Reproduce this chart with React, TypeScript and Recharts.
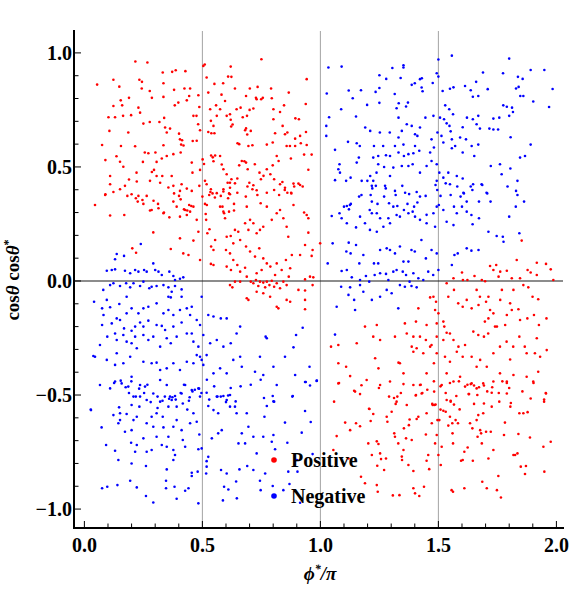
import {
  ScatterChart,
  Scatter,
  XAxis,
  YAxis,
  ReferenceLine,
  Legend,
} from 'recharts';

// cosθ cosθ* vs φ*/π
const positive: [number, number][] = [
  [0.054, 0.861], [0.075, 0.596], [0.089, 0.53], [0.106, 0.658], [0.109, 0.46], [0.109, 0.424], [0.089, 0.38],
  [0.123, 0.882], [0.123, 0.767], [0.13, 0.718], [0.123, 0.39], [0.102, 0.718], [0.136, 0.547], [0.148, 0.852],
  [0.154, 0.792], [0.16, 0.77], [0.164, 0.724], [0.155, 0.592], [0.151, 0.523], [0.165, 0.501], [0.186, 0.651],
  [0.189, 0.803], [0.198, 0.727], [0.215, 0.591], [0.189, 0.445], [0.216, 0.962], [0.233, 0.882], [0.244, 0.873],
  [0.243, 0.844], [0.229, 0.76], [0.236, 0.738], [0.25, 0.69], [0.256, 0.563], [0.248, 0.522], [0.221, 0.475],
  [0.222, 0.436], [0.267, 0.958], [0.277, 0.833], [0.286, 0.803], [0.277, 0.697], [0.271, 0.56], [0.286, 0.478],
  [0.301, 0.563], [0.306, 0.522], [0.318, 0.697], [0.332, 0.914], [0.335, 0.867], [0.335, 0.807], [0.338, 0.715],
  [0.335, 0.595], [0.328, 0.537], [0.33, 0.46], [0.342, 0.673], [0.349, 0.651], [0.363, 0.668], [0.372, 0.917],
  [0.387, 0.924], [0.38, 0.838], [0.383, 0.77], [0.398, 0.782], [0.401, 0.646], [0.405, 0.621], [0.414, 0.617],
  [0.41, 0.598], [0.42, 0.594], [0.428, 0.92], [0.424, 0.844], [0.434, 0.792], [0.444, 0.811], [0.448, 0.844],
  [0.462, 0.724], [0.475, 0.724], [0.483, 0.814], [0.487, 0.763], [0.459, 0.614], [0.476, 0.615], [0.482, 0.687],
  [0.49, 0.661], [0.504, 0.943], [0.51, 0.949], [0.518, 0.892], [0.525, 0.826], [0.533, 0.753], [0.536, 0.702],
  [0.525, 0.653], [0.538, 0.648], [0.551, 0.648], [0.547, 0.68], [0.551, 0.864], [0.558, 0.77], [0.561, 0.724],
  [0.575, 0.753], [0.581, 0.817], [0.588, 0.867], [0.596, 0.789], [0.609, 0.896], [0.623, 0.895], [0.62, 0.94],
  [0.638, 0.844], [0.645, 0.753], [0.617, 0.731], [0.603, 0.724], [0.62, 0.707], [0.622, 0.677], [0.628, 0.686],
  [0.649, 0.604], [0.656, 0.6], [0.662, 0.76], [0.671, 0.718], [0.685, 0.811], [0.689, 0.724], [0.701, 0.844],
  [0.695, 0.592], [0.681, 0.661], [0.685, 0.669], [0.69, 0.642], [0.7, 0.75], [0.705, 0.658], [0.712, 0.595],
  [0.716, 0.756], [0.727, 0.803], [0.73, 0.797], [0.734, 0.851], [0.75, 0.972], [0.749, 0.797], [0.756, 0.803],
  [0.773, 0.598], [0.791, 0.844], [0.794, 0.801], [0.801, 0.753], [0.801, 0.709], [0.798, 0.607], [0.808, 0.648],
  [0.829, 0.741], [0.84, 0.68], [0.85, 0.643], [0.846, 0.77], [0.86, 0.651], [0.857, 0.592], [0.866, 0.826],
  [0.349, 0.548], [0.377, 0.556], [0.408, 0.563], [0.455, 0.519], [0.458, 0.475], [0.501, 0.533], [0.507, 0.513],
  [0.511, 0.439], [0.518, 0.424], [0.537, 0.55], [0.544, 0.542], [0.554, 0.55], [0.547, 0.525], [0.575, 0.548],
  [0.582, 0.511], [0.589, 0.49], [0.603, 0.468], [0.607, 0.431], [0.617, 0.431], [0.623, 0.446], [0.638, 0.428],
  [0.648, 0.449], [0.656, 0.507], [0.667, 0.526], [0.678, 0.525], [0.685, 0.519], [0.692, 0.49], [0.699, 0.431],
  [0.722, 0.512], [0.742, 0.475], [0.748, 0.446], [0.759, 0.461], [0.773, 0.49], [0.788, 0.468], [0.798, 0.507],
  [0.804, 0.446], [0.815, 0.548], [0.823, 0.526], [0.829, 0.424], [0.839, 0.434], [0.85, 0.409], [0.86, 0.387],
  [0.773, 0.387], [0.716, 0.42], [0.73, 0.398], [0.648, 0.387], [0.617, 0.38], [0.589, 0.402], [0.561, 0.385],
  [0.534, 0.39], [0.487, 0.417], [0.455, 0.395], [0.434, 0.405], [0.405, 0.395], [0.377, 0.417], [0.356, 0.41],
  [0.321, 0.431], [0.306, 0.46], [0.264, 0.373], [0.229, 0.373], [0.2, 0.38], [0.172, 0.417], [0.151, 0.402],
  [0.278, 0.439], [0.295, 0.487], [0.37, 0.46], [0.412, 0.424], [0.49, 0.487],
  [0.942, 0.885], [0.938, 0.776], [0.894, 0.713], [0.909, 0.709], [0.939, 0.653], [0.914, 0.636], [0.893, 0.624],
  [0.942, 0.596], [0.917, 0.604], [0.871, 0.592], [0.893, 0.592], [0.931, 0.554], [0.963, 0.554], [0.875, 0.537],
  [0.949, 0.488], [0.886, 0.427], [0.907, 0.427], [0.925, 0.414], [0.876, 0.387],
  [0.045, 0.333], [0.109, 0.287], [0.169, 0.289], [0.203, 0.143], [0.219, 0.124], [0.226, 0.348], [0.292, 0.213],
  [0.285, 0.311], [0.314, 0.319], [0.335, 0.297], [0.36, 0.279], [0.391, 0.326], [0.405, 0.282], [0.427, 0.311],
  [0.434, 0.289], [0.448, 0.304], [0.462, 0.326], [0.476, 0.268], [0.483, 0.216], [0.366, 0.14], [0.405, 0.187],
  [0.419, 0.121], [0.441, 0.114], [0.462, 0.177], [0.49, 0.092], [0.511, 0.338], [0.516, 0.268], [0.521, 0.209],
  [0.53, 0.227], [0.537, 0.151], [0.547, 0.136], [0.554, 0.18], [0.536, 0.075], [0.547, 0.07], [0.575, 0.326],
  [0.589, 0.304], [0.596, 0.275], [0.603, 0.194], [0.62, 0.197], [0.631, 0.165], [0.638, 0.224], [0.652, 0.216],
  [0.66, 0.18], [0.6, 0.136], [0.617, 0.121], [0.603, 0.063], [0.621, 0.048], [0.631, 0.092], [0.648, 0.07],
  [0.66, 0.041], [0.617, -0.018], [0.627, -0.028], [0.638, -0.003], [0.66, -0.003], [0.688, 0.326], [0.681, 0.253],
  [0.695, 0.224], [0.702, 0.268], [0.716, 0.253], [0.73, 0.209], [0.744, 0.224], [0.758, 0.238], [0.773, 0.326],
  [0.794, 0.268], [0.815, 0.297], [0.829, 0.311], [0.843, 0.275], [0.857, 0.238], [0.864, 0.194], [0.685, 0.151],
  [0.702, 0.129], [0.723, 0.107], [0.741, 0.143], [0.758, 0.099], [0.773, 0.077], [0.788, 0.063], [0.815, 0.077],
  [0.836, 0.048], [0.854, 0.092], [0.866, 0.019], [0.681, 0.058], [0.688, 0.019], [0.705, -0.003], [0.716, -0.01],
  [0.727, 0.004], [0.737, -0.022], [0.744, -0.003], [0.758, -0.007], [0.766, -0.028], [0.773, -0.003], [0.784, -0.018],
  [0.794, 0.001], [0.804, -0.025], [0.815, -0.01], [0.829, -0.032], [0.843, -0.003], [0.857, -0.018], [0.688, -0.076],
  [0.695, -0.083], [0.73, -0.047], [0.758, -0.054], [0.787, -0.069], [0.815, -0.113], [0.822, -0.12], [0.857, -0.083],
  [0.73, 0.034], [0.808, 0.026], [0.751, 0.048],
  [0.886, 0.333], [0.942, 0.289], [0.949, 0.275], [0.949, 0.212], [0.935, 0.158], [0.967, 0.136], [0.963, 0.11],
  [0.914, 0.114], [0.879, 0.114], [0.872, 0.056], [0.935, 0.007], [0.956, 0.019], [0.97, 0.016], [0.907, -0.039],
  [0.935, -0.042], [0.967, -0.018], [0.872, -0.091], [0.935, -0.083], [0.935, -0.124], [0.999, 0.165],
  [0.088, 0.377], [0.182, 0.373], [0.218, 0.363], [0.246, 0.355], [0.25, 0.338], [0.293, 0.352], [0.312, 0.338],
  [0.278, 0.309], [0.337, 0.3], [0.38, 0.384], [0.401, 0.373], [0.408, 0.358], [0.377, 0.348], [0.444, 0.333],
  [0.453, 0.329], [0.422, 0.314], [0.436, 0.309], [0.5, 0.37], [0.519, 0.333], [0.514, 0.294], [0.529, 0.377],
  [0.543, 0.384], [0.536, 0.402], [0.553, 0.366], [0.578, 0.373], [0.589, 0.392], [0.585, 0.326], [0.592, 0.297],
  [0.609, 0.363], [0.613, 0.384], [0.617, 0.409], [0.634, 0.338], [0.634, 0.309], [0.613, 0.304], [0.691, 0.414],
  [0.684, 0.37], [0.712, 0.402], [0.733, 0.377], [0.747, 0.341], [0.804, 0.399], [0.825, 0.377], [0.849, 0.399],
  [0.877, 0.384], [0.889, 0.414], [0.914, 0.421], [0.931, 0.3],
  [1.564, 0.012], [1.6, 0.037], [1.604, 0.004], [1.623, 0.004], [1.653, 0.022], [1.684, 0.004], [1.698, -0.001],
  [1.719, 0.066], [1.733, 0.048], [1.745, 0.07], [1.755, 0.019], [1.762, 0.041], [1.79, 0.045], [1.811, 0.012],
  [1.832, 0.092], [1.846, 0.012], [1.878, 0.048], [1.891, 0.037], [1.917, 0.08], [1.917, 0.026], [1.956, 0.075],
  [1.976, 0.051], [1.987, 0.004], [1.853, 0.177], [1.535, -0.01], [1.542, -0.069], [1.566, -0.039], [1.584, -0.098],
  [1.603, -0.113], [1.62, -0.083], [1.641, -0.12], [1.662, -0.039], [1.676, -0.069], [1.702, -0.091], [1.712, -0.069],
  [1.719, -0.127], [1.733, -0.142], [1.762, -0.083], [1.769, -0.039], [1.804, -0.098], [1.811, -0.127], [1.839, -0.124],
  [1.818, -0.039], [1.86, -0.018], [1.881, -0.028], [1.899, -0.069], [1.923, -0.08], [1.905, -0.149], [1.877, -0.164],
  [1.846, -0.171], [1.958, -0.164], [1.926, -0.193], [1.79, -0.149], [1.783, -0.193], [1.748, -0.2], [1.712, -0.164],
  [1.697, -0.178], [1.67, -0.105], [1.49, -0.091], [1.479, -0.069], [1.465, -0.072], [1.486, -0.127], [1.5, -0.142],
  [1.521, -0.178], [1.525, -0.2], [1.493, -0.186], [1.45, -0.193], [1.415, -0.12], [1.405, -0.178], [1.358, -0.186],
  [1.366, -0.23], [1.394, -0.244], [1.422, -0.244], [1.447, -0.259], [1.471, -0.281], [1.493, -0.244], [1.521, -0.259],
  [1.535, -0.227], [1.549, -0.23], [1.564, -0.259], [1.585, -0.288], [1.613, -0.281], [1.648, -0.222], [1.669, -0.237],
  [1.693, -0.244], [1.711, -0.23], [1.74, -0.2], [1.761, -0.288], [1.789, -0.266], [1.817, -0.288], [1.843, -0.244],
  [1.866, -0.288], [1.909, -0.317], [1.917, -0.251], [1.959, -0.303], [1.874, -0.317], [1.804, -0.344], [1.733, -0.317],
  [1.705, -0.376], [1.677, -0.346], [1.662, -0.376], [1.641, -0.332], [1.603, -0.332], [1.578, -0.31], [1.549, -0.354],
  [1.528, -0.332], [1.493, -0.317], [1.465, -0.288], [1.436, -0.317], [1.408, -0.295], [1.387, -0.288], [1.394, -0.31],
  [1.337, -0.361], [1.316, -0.244], [1.253, -0.259], [1.224, -0.244], [1.239, -0.193], [1.189, -0.2], [1.154, -0.273],
  [1.076, -0.281], [1.045, -0.288], [1.076, -0.361], [1.109, -0.376], [1.126, -0.417], [1.076, -0.449], [1.196, -0.434],
  [1.232, -0.339], [1.246, -0.383], [1.253, -0.456], [1.295, -0.441], [1.352, -0.405], [1.331, -0.358], [1.394, -0.456],
  [1.422, -0.456], [1.45, -0.405], [1.481, -0.361], [1.514, -0.456], [1.535, -0.405], [1.564, -0.441], [1.592, -0.42],
  [1.613, -0.463], [1.641, -0.449], [1.662, -0.471], [1.69, -0.449], [1.733, -0.441], [1.761, -0.405], [1.79, -0.441],
  [1.818, -0.412], [1.874, -0.42], [1.902, -0.441], [1.923, -0.398], [1.931, -0.332],
  [1.079, -0.447], [1.143, -0.481], [1.174, -0.457], [1.248, -0.469], [1.291, -0.507], [1.312, -0.513], [1.319, -0.539],
  [1.341, -0.491], [1.352, -0.452], [1.404, -0.502], [1.425, -0.455], [1.432, -0.491], [1.453, -0.477], [1.474, -0.539],
  [1.488, -0.542], [1.481, -0.44], [1.509, -0.462], [1.531, -0.491], [1.549, -0.447], [1.552, -0.525], [1.566, -0.542],
  [1.587, -0.44], [1.623, -0.455], [1.637, -0.452], [1.651, -0.458], [1.672, -0.466], [1.693, -0.458], [1.707, -0.484],
  [1.728, -0.466], [1.756, -0.491], [1.771, -0.44], [1.79, -0.447], [1.8, -0.469], [1.856, -0.484], [1.903, -0.447],
  [1.948, -0.52], [1.955, -0.491], [1.807, -0.535], [1.63, -0.496], [1.651, -0.539], [1.206, -0.56], [1.509, -0.564],
  [1.058, -0.529], [1.069, -0.68], [1.055, -0.741], [1.105, -0.621], [1.119, -0.778], [1.126, -0.654], [1.151, -0.624],
  [1.147, -0.485], [1.168, -0.496], [1.168, -0.637], [1.172, -0.858], [1.189, -0.887], [1.203, -0.712], [1.208, -0.561],
  [1.213, -0.614], [1.218, -0.763], [1.224, -0.583], [1.239, -0.703], [1.246, -0.715], [1.253, -0.756], [1.241, -0.81],
  [1.239, -0.895], [1.243, -0.924], [1.257, -0.781], [1.27, -0.829], [1.278, -0.778], [1.281, -0.595], [1.284, -0.617],
  [1.302, -0.573], [1.307, -0.94], [1.313, -0.668], [1.316, -0.683], [1.323, -0.529], [1.326, -0.507], [1.33, -0.712],
  [1.335, -0.939], [1.345, -0.77], [1.346, -0.785], [1.352, -0.741], [1.354, -0.646], [1.363, -0.69], [1.366, -0.544],
  [1.373, -0.807], [1.375, -0.632], [1.378, -0.607], [1.387, -0.697], [1.394, -0.833], [1.394, -0.909], [1.401, -0.931],
  [1.405, -0.5], [1.408, -0.605], [1.415, -0.595], [1.419, -0.943], [1.429, -0.493], [1.439, -0.902], [1.447, -0.673],
  [1.45, -0.58], [1.45, -0.788], [1.457, -0.763], [1.461, -0.825], [1.472, -0.624], [1.476, -0.544], [1.483, -0.544],
  [1.482, -0.485], [1.486, -0.712], [1.493, -0.675], [1.496, -0.61], [1.5, -0.763], [1.504, -0.61], [1.51, -0.807],
  [1.514, -0.727], [1.521, -0.569], [1.531, -0.573], [1.535, -0.522], [1.542, -0.634], [1.549, -0.595], [1.552, -0.529],
  [1.556, -0.917], [1.559, -0.624], [1.56, -0.668], [1.562, -0.924], [1.562, -0.712], [1.573, -0.61], [1.576, -0.504],
  [1.583, -0.624], [1.59, -0.563], [1.596, -0.788], [1.603, -0.785], [1.61, -0.909], [1.61, -0.749], [1.624, -0.73],
  [1.628, -0.496], [1.634, -0.624], [1.644, -0.646], [1.646, -0.788], [1.662, -0.61], [1.665, -0.5], [1.666, -0.683],
  [1.669, -0.588], [1.677, -0.654], [1.681, -0.668], [1.684, -0.712], [1.686, -0.88], [1.69, -0.58], [1.693, -0.537],
  [1.702, -0.661], [1.705, -0.909], [1.712, -0.778], [1.722, -0.661], [1.726, -0.551], [1.733, -0.741], [1.748, -0.917],
  [1.754, -0.855], [1.758, -0.529], [1.765, -0.949], [1.778, -0.675], [1.782, -0.621], [1.79, -0.493], [1.805, -0.551],
  [1.818, -0.763], [1.825, -0.763], [1.835, -0.756], [1.839, -0.671], [1.843, -0.58], [1.849, -0.814], [1.86, -0.58],
  [1.867, -0.846], [1.871, -0.811], [1.878, -0.575], [1.888, -0.686], [1.891, -0.515], [1.945, -0.727], [1.948, -0.529],
  [1.949, -0.836], [1.956, -0.493], [1.976, -0.705], [1.726, -0.49],
];

const negative: [number, number][] = [
  [1.034, 0.936], [1.09, 0.94], [1.027, 0.822], [1.037, 0.718], [1.025, 0.68], [1.025, 0.636], [1.088, 0.753],
  [1.12, 0.835], [1.137, 0.801], [1.172, 0.836], [1.151, 0.721], [1.198, 0.772], [1.19, 0.673], [1.234, 0.829],
  [1.25, 0.846], [1.25, 0.902], [1.25, 0.781], [1.279, 0.886], [1.305, 0.934], [1.352, 0.936], [1.352, 0.946],
  [1.315, 0.82], [1.332, 0.779], [1.323, 0.757], [1.371, 0.782], [1.363, 0.765], [1.34, 0.89], [1.387, 0.86],
  [1.4, 0.867], [1.422, 0.885], [1.43, 0.889], [1.429, 0.848], [1.433, 0.832], [1.476, 0.868], [1.493, 0.911],
  [1.5, 0.971], [1.5, 0.896], [1.518, 0.833], [1.549, 0.843], [1.564, 0.849], [1.557, 0.988], [1.613, 0.855],
  [1.637, 0.836], [1.646, 0.808], [1.669, 0.811], [1.66, 0.873], [1.689, 0.914], [1.709, 0.841], [1.774, 0.911],
  [1.8, 0.975], [1.837, 0.895], [1.829, 0.844], [1.847, 0.811], [1.84, 0.851], [1.857, 0.886], [1.891, 0.925],
  [1.902, 0.787], [1.949, 0.925], [1.984, 0.842], [1.969, 0.763], [1.86, 0.811], [1.812, 0.76], [1.79, 0.764],
  [1.775, 0.77], [1.816, 0.741], [1.8, 0.724], [1.806, 0.63], [1.891, 0.598], [1.758, 0.716], [1.733, 0.712],
  [1.716, 0.668], [1.733, 0.664], [1.753, 0.664], [1.669, 0.724], [1.646, 0.709], [1.621, 0.716], [1.662, 0.687],
  [1.676, 0.668], [1.603, 0.674], [1.592, 0.629], [1.617, 0.621], [1.641, 0.592], [1.669, 0.598], [1.652, 0.548],
  [1.603, 0.563], [1.571, 0.592], [1.557, 0.621], [1.552, 0.656], [1.535, 0.691], [1.524, 0.709], [1.529, 0.77],
  [1.546, 0.753], [1.562, 0.731], [1.507, 0.716], [1.479, 0.724], [1.445, 0.716], [1.422, 0.673], [1.387, 0.68],
  [1.401, 0.643], [1.411, 0.636], [1.366, 0.687], [1.345, 0.658], [1.331, 0.716], [1.294, 0.651], [1.252, 0.651],
  [1.266, 0.592], [1.227, 0.592], [1.167, 0.592], [1.154, 0.604], [1.117, 0.61], [1.062, 0.575], [1.081, 0.512],
  [1.076, 0.49], [1.083, 0.475], [1.062, 0.442], [1.109, 0.439], [1.128, 0.453], [1.154, 0.519], [1.163, 0.541],
  [1.175, 0.439], [1.211, 0.46], [1.199, 0.439], [1.224, 0.439], [1.218, 0.417], [1.238, 0.475], [1.245, 0.512],
  [1.245, 0.548], [1.278, 0.551], [1.295, 0.548], [1.331, 0.563], [1.354, 0.548], [1.373, 0.556], [1.394, 0.56],
  [1.391, 0.512], [1.373, 0.504], [1.345, 0.504], [1.309, 0.497], [1.295, 0.46], [1.27, 0.5], [1.274, 0.417],
  [1.316, 0.395], [1.359, 0.387], [1.408, 0.39], [1.422, 0.475], [1.45, 0.504], [1.465, 0.563], [1.471, 0.621],
  [1.481, 0.585], [1.471, 0.526], [1.493, 0.512], [1.504, 0.475], [1.493, 0.439], [1.521, 0.453], [1.542, 0.475],
  [1.549, 0.424], [1.578, 0.46], [1.603, 0.449], [1.606, 0.387], [1.647, 0.424], [1.683, 0.424], [1.704, 0.387],
  [1.722, 0.504], [1.761, 0.512], [1.768, 0.468], [1.805, 0.493], [1.835, 0.439], [1.846, 0.541], [1.867, 0.548],
  [1.829, 0.395], [1.547, 0.68], [1.496, 0.651], [1.513, 0.636], [1.521, 0.607], [1.557, 0.582], [1.419, 0.571],
  [1.401, 0.592], [1.352, 0.598], [1.316, 0.592], [1.331, 0.629], [1.211, 0.658], [1.224, 0.541],
  [1.112, 0.329], [1.121, 0.314], [1.129, 0.338], [1.164, 0.37], [1.174, 0.377], [1.213, 0.377], [1.22, 0.406],
  [1.235, 0.417], [1.218, 0.348], [1.242, 0.338], [1.209, 0.311], [1.27, 0.37], [1.277, 0.406], [1.291, 0.341],
  [1.319, 0.377], [1.326, 0.329], [1.347, 0.417], [1.376, 0.381], [1.369, 0.338], [1.397, 0.326], [1.411, 0.344],
  [1.422, 0.37], [1.446, 0.373], [1.45, 0.29], [1.488, 0.421], [1.495, 0.399], [1.502, 0.333], [1.509, 0.373],
  [1.531, 0.428], [1.552, 0.377], [1.566, 0.326], [1.58, 0.414], [1.594, 0.37], [1.608, 0.384], [1.62, 0.348],
  [1.637, 0.414], [1.644, 0.399], [1.672, 0.348], [1.686, 0.421], [1.707, 0.384], [1.721, 0.348], [1.793, 0.414],
  [1.835, 0.377], [1.863, 0.348], [1.828, 0.326],
  [0.239, 0.162], [0.137, 0.118], [0.13, 0.095], [0.168, 0.11], [0.095, 0.045], [0.116, 0.048], [0.13, 0.051],
  [0.172, 0.045], [0.194, 0.034], [0.215, 0.048], [0.229, 0.041], [0.253, 0.048], [0.264, 0.041], [0.292, 0.077],
  [0.3, 0.048], [0.314, 0.041], [0.328, 0.026], [0.36, 0.041], [0.377, 0.022], [0.384, 0.004], [0.405, 0.01],
  [0.419, 0.016], [0.109, -0.018], [0.123, -0.01], [0.151, -0.022], [0.177, -0.01], [0.194, -0.028], [0.208, -0.01],
  [0.236, -0.022], [0.25, -0.003], [0.275, -0.032], [0.285, -0.025], [0.306, -0.022], [0.335, -0.018], [0.356, -0.028],
  [0.37, -0.047], [0.384, -0.022], [0.412, -0.037], [0.412, -0.069], [0.356, -0.069], [0.366, -0.072], [0.179, -0.069],
  [0.08, -0.039], [0.041, -0.091], [0.095, -0.083], [0.109, -0.115], [0.148, -0.101], [0.075, -0.12], [0.081, -0.149],
  [0.075, -0.193], [0.137, -0.164], [0.151, -0.171], [0.179, -0.142], [0.2, -0.12], [0.229, -0.142], [0.25, -0.12],
  [0.271, -0.113], [0.306, -0.098], [0.335, -0.142], [0.356, -0.127], [0.377, -0.149], [0.405, -0.127], [0.434, -0.12],
  [0.455, -0.113], [0.448, -0.149], [0.476, -0.171], [0.497, -0.069], [0.525, -0.149], [0.547, -0.156], [0.578, -0.164],
  [0.603, -0.164], [0.49, -0.193], [0.412, -0.182], [0.377, -0.2], [0.342, -0.215], [0.328, -0.197], [0.306, -0.193],
  [0.271, -0.174], [0.236, -0.182], [0.25, -0.2], [0.215, -0.2], [0.2, -0.218], [0.168, -0.208], [0.116, -0.186],
  [0.097, -0.244], [0.066, -0.281], [0.13, -0.23], [0.137, -0.259], [0.165, -0.237], [0.179, -0.266], [0.2, -0.273],
  [0.215, -0.244], [0.25, -0.237], [0.271, -0.259], [0.292, -0.244], [0.321, -0.288], [0.349, -0.251], [0.366, -0.273],
  [0.391, -0.244], [0.434, -0.23], [0.455, -0.23], [0.462, -0.266], [0.483, -0.288], [0.504, -0.237], [0.533, -0.273],
  [0.561, -0.259], [0.589, -0.288], [0.62, -0.273], [0.645, -0.23], [0.66, -0.2], [0.768, -0.244], [0.773, -0.251],
  [0.66, -0.332], [0.744, -0.332], [0.85, -0.332], [0.045, -0.332], [0.038, -0.329], [0.095, -0.346], [0.137, -0.317],
  [0.13, -0.368], [0.165, -0.361], [0.194, -0.332], [0.222, -0.295], [0.25, -0.354], [0.285, -0.361], [0.306, -0.358],
  [0.321, -0.39], [0.349, -0.383], [0.377, -0.361], [0.405, -0.39], [0.434, -0.354], [0.462, -0.361], [0.476, -0.325],
  [0.49, -0.332], [0.497, -0.346], [0.504, -0.368], [0.518, -0.325], [0.547, -0.405], [0.575, -0.383], [0.603, -0.405],
  [0.631, -0.346], [0.667, -0.376], [0.723, -0.398], [0.758, -0.412], [0.815, -0.456], [0.801, -0.376], [0.13, -0.441],
  [0.158, -0.449], [0.2, -0.42], [0.236, -0.456], [0.257, -0.463], [0.292, -0.493], [0.321, -0.434], [0.349, -0.456],
  [0.363, -0.507], [0.384, -0.504], [0.412, -0.493], [0.427, -0.456], [0.455, -0.478], [0.483, -0.471], [0.518, -0.49],
  [0.561, -0.507], [0.589, -0.504], [0.617, -0.5], [0.186, -0.463], [0.109, -0.471], [0.066, -0.456],
  [0.126, -0.447], [0.154, -0.437], [0.175, -0.466], [0.199, -0.44], [0.189, -0.491], [0.218, -0.507], [0.232, -0.472],
  [0.253, -0.491], [0.267, -0.455], [0.281, -0.531], [0.31, -0.507], [0.331, -0.525], [0.341, -0.507], [0.359, -0.516],
  [0.373, -0.51], [0.387, -0.52], [0.408, -0.491], [0.422, -0.455], [0.443, -0.525], [0.458, -0.484], [0.468, -0.477],
  [0.486, -0.472], [0.496, -0.491], [0.519, -0.433], [0.529, -0.52], [0.55, -0.462], [0.564, -0.507], [0.578, -0.507],
  [0.6, -0.531], [0.609, -0.502], [0.62, -0.469], [0.641, -0.528], [0.662, -0.462], [0.705, -0.455], [0.747, -0.433],
  [0.761, -0.513], [0.801, -0.528], [0.881, -0.507], [0.938, -0.443], [0.985, -0.437], [0.147, -0.554], [0.027, -0.564],
  [0.31, -0.557], [0.436, -0.564],
  [1.048, 0.285], [1.081, 0.297], [1.09, 0.275], [1.112, 0.253], [1.1, 0.326], [1.125, 0.333], [1.151, 0.235],
  [1.168, 0.282], [1.189, 0.253], [1.21, 0.224], [1.218, 0.297], [1.239, 0.297], [1.253, 0.275], [1.239, 0.216],
  [1.267, 0.238], [1.288, 0.275], [1.295, 0.253], [1.309, 0.326], [1.323, 0.289], [1.337, 0.282], [1.354, 0.311],
  [1.373, 0.297], [1.391, 0.304], [1.401, 0.282], [1.422, 0.268], [1.45, 0.253], [1.479, 0.297], [1.486, 0.238],
  [1.493, 0.326], [1.521, 0.311], [1.535, 0.26], [1.564, 0.245], [1.578, 0.297], [1.6, 0.326], [1.62, 0.304],
  [1.64, 0.289], [1.645, 0.249], [1.672, 0.275], [1.712, 0.216], [1.747, 0.197], [1.773, 0.194], [1.776, 0.172],
  [1.8, 0.282], [1.843, 0.209], [1.67, 0.136], [1.64, 0.133], [1.62, 0.143], [1.582, 0.121], [1.568, 0.114],
  [1.557, 0.07], [1.5, 0.048], [1.493, 0.121], [1.471, 0.136], [1.447, 0.099], [1.428, 0.18], [1.4, 0.129],
  [1.386, 0.136], [1.373, 0.085], [1.352, 0.085], [1.337, 0.151], [1.316, 0.121], [1.295, 0.136], [1.281, 0.143],
  [1.253, 0.136], [1.227, 0.077], [1.245, 0.077], [1.182, 0.114], [1.165, 0.077], [1.151, 0.158], [1.12, 0.168],
  [1.11, 0.129], [1.128, 0.121], [1.052, 0.165], [1.031, 0.077], [1.09, 0.044], [1.112, 0.048], [1.133, 0.016],
  [1.168, 0.004], [1.193, 0.022], [1.207, -0.003], [1.23, 0.026], [1.253, 0.034], [1.278, 0.031], [1.288, 0.004],
  [1.309, 0.041], [1.323, 0.048], [1.349, 0.041], [1.363, 0.026], [1.378, -0.003], [1.394, 0.034], [1.415, 0.012],
  [1.436, 0.004], [1.457, 0.041], [1.478, 0.026], [1.088, -0.025], [1.126, -0.028], [1.119, -0.061], [1.143, -0.083],
  [1.182, -0.047], [1.218, -0.083], [1.253, -0.069], [1.281, -0.039], [1.302, -0.054], [1.337, -0.018], [1.358, -0.025],
  [1.386, -0.022], [1.408, -0.028], [1.069, -0.113], [1.147, -0.127], [1.33, -0.12], [1.168, -0.018],
  [0.925, -0.205], [0.897, -0.237], [0.886, -0.291], [0.954, -0.376], [0.893, -0.412], [0.935, -0.443], [0.956, -0.458],
  [0.984, -0.438], [1.062, -0.235],
  [0.028, -0.566], [0.073, -0.642], [0.092, -0.719], [0.13, -0.744], [0.144, -0.785], [0.075, -0.909], [0.097, -0.902],
  [0.14, -0.895], [0.194, -0.876], [0.222, -0.905], [0.261, -0.943], [0.292, -0.971], [0.346, -0.876], [0.346, -0.909],
  [0.382, -0.902], [0.391, -0.955], [0.427, -0.92], [0.441, -0.909], [0.483, -0.975], [0.455, -0.841], [0.455, -0.855],
  [0.48, -0.836], [0.516, -0.844], [0.518, -0.814], [0.579, -0.829], [0.603, -0.844], [0.592, -0.902], [0.61, -0.914],
  [0.587, -0.962], [0.646, -0.953], [0.643, -0.879], [0.657, -0.826], [0.69, -0.811], [0.716, -0.829], [0.744, -0.876],
  [0.747, -0.917], [0.766, -0.844], [0.798, -0.899], [0.843, -0.917], [0.864, -0.836], [0.869, -0.89], [0.123, -0.588],
  [0.151, -0.58], [0.144, -0.624], [0.151, -0.61], [0.172, -0.661], [0.2, -0.654], [0.208, -0.61], [0.179, -0.583],
  [0.2, -0.544], [0.208, -0.507], [0.233, -0.551], [0.222, -0.595], [0.198, -0.709], [0.215, -0.749], [0.222, -0.719],
  [0.2, -0.8], [0.25, -0.69], [0.264, -0.749], [0.261, -0.811], [0.285, -0.741], [0.292, -0.639], [0.306, -0.683],
  [0.285, -0.595], [0.264, -0.624], [0.306, -0.58], [0.332, -0.595], [0.335, -0.642], [0.328, -0.719], [0.349, -0.727],
  [0.377, -0.741], [0.384, -0.763], [0.377, -0.785], [0.349, -0.826], [0.356, -0.683], [0.377, -0.639], [0.391, -0.61],
  [0.412, -0.654], [0.417, -0.697], [0.427, -0.727], [0.448, -0.624], [0.462, -0.58], [0.476, -0.617], [0.487, -0.673],
  [0.483, -0.738], [0.497, -0.734], [0.525, -0.771], [0.518, -0.79], [0.54, -0.69], [0.567, -0.668], [0.582, -0.654],
  [0.567, -0.58], [0.547, -0.566], [0.525, -0.548], [0.603, -0.522], [0.617, -0.551], [0.638, -0.551], [0.645, -0.58],
  [0.688, -0.58], [0.695, -0.639], [0.667, -0.668], [0.653, -0.712], [0.681, -0.712], [0.716, -0.683], [0.73, -0.756],
  [0.758, -0.683], [0.801, -0.675], [0.808, -0.738], [0.794, -0.705], [0.763, -0.595], [0.773, -0.548], [0.798, -0.504],
  [0.804, -0.529], [0.85, -0.621], [0.86, -0.709], [0.321, -0.529], [0.356, -0.551], [0.37, -0.522], [0.391, -0.551],
  [0.417, -0.537], [0.446, -0.51], [0.49, -0.507], [0.264, -0.522], [0.236, -0.507],
  [0.883, -0.504], [0.935, -0.57], [0.959, -0.618], [0.921, -0.665], [0.967, -0.759], [0.9, -0.785], [0.903, -0.836],
  [0.914, -0.972],
];

const seriesOrder = ['Positive', 'Negative'];
const xTicks = [0, 0.1, 0.2, 0.3, 0.4, 0.5, 0.6, 0.7, 0.8, 0.9, 1, 1.1, 1.2, 1.3, 1.4, 1.5, 1.6, 1.7, 1.8, 1.9, 2];
const yTicks = [-1, -0.9, -0.8, -0.7, -0.6, -0.5, -0.4, -0.3, -0.2, -0.1, 0, 0.1, 0.2, 0.3, 0.4, 0.5, 0.6, 0.7, 0.8, 0.9, 1];
const gridX = [0.5, 1, 1.5];

const positiveData = positive.map(([x, y]) => ({ x, y }));
const negativeData = negative.map(([x, y]) => ({ x, y }));

const serif = '"Liberation Serif", "Times New Roman", serif';
const tickStyle = { fontFamily: serif, fontWeight: 700, fontSize: 20, fill: '#000' };
const MAJOR = 7;
const MINOR = 4.5;

const isMajor = (v: number) => Math.abs(v * 2 - Math.round(v * 2)) < 1e-6;
const fmt = (v: number) => (v < 0 ? '\u2212' : '') + Math.abs(v).toFixed(1);

function BottomTick({ x, y, payload }: any) {
  const major = isMajor(payload.value);
  return (
    <g>
      <line x1={x} x2={x} y1={y} y2={y - (major ? MAJOR : MINOR)} stroke="#000" strokeWidth={1} />
      {major && (
        <text x={x} y={y + 24} textAnchor="middle" style={tickStyle}>
          {fmt(payload.value)}
        </text>
      )}
    </g>
  );
}

function TopTick({ x, y, payload }: any) {
  const major = isMajor(payload.value);
  return <line x1={x} x2={x} y1={y} y2={y + (major ? MAJOR : MINOR)} stroke="#000" strokeWidth={1} />;
}

function LeftTick({ x, y, payload }: any) {
  const major = isMajor(payload.value);
  return (
    <g>
      <line x1={x} x2={x + (major ? MAJOR : MINOR)} y1={y} y2={y} stroke="#000" strokeWidth={1} />
      {major && (
        <text x={x - 2} y={y + 7} textAnchor="end" style={tickStyle}>
          {fmt(payload.value)}
        </text>
      )}
    </g>
  );
}

function RightTick({ x, y, payload }: any) {
  const major = isMajor(payload.value);
  return <line x1={x} x2={x - (major ? MAJOR : MINOR)} y1={y} y2={y} stroke="#000" strokeWidth={1} />;
}

function TitleLabel() {
  return (
    <text x={307} y={20} style={{ fontFamily: serif, fontWeight: 700, fill: '#000' }}>
      <tspan fontStyle="italic" fontSize={22}>h</tspan>
      <tspan x={320} y={8} fontStyle="italic" fontSize={13}>γ</tspan>
      <tspan x={321} y={22} fontSize={13}>1</tspan>
    </text>
  );
}

function XLabel() {
  return (
    <text x={320} y={580} textAnchor="middle" style={{ fontFamily: serif, fontWeight: 700, fontStyle: 'italic', fontSize: 19, fill: '#000' }}>
      ϕ<tspan dy={-7} fontSize={12}>*</tspan>
      <tspan dy={7}>/π</tspan>
    </text>
  );
}

function YLabel() {
  return (
    <text
      x={19}
      y={280}
      transform="rotate(-90 19 280)"
      textAnchor="middle"
      style={{ fontFamily: serif, fontWeight: 700, fontSize: 19, fill: '#000' }}
    >
      cos<tspan fontStyle="italic">θ</tspan> cos<tspan fontStyle="italic">θ</tspan>
      <tspan dy={-7} fontSize={12}>*</tspan>
    </text>
  );
}

function LegendBox({ payload }: any) {
  const items = [...(payload || [])].sort(
    (a: any, b: any) => seriesOrder.indexOf(a.value) - seriesOrder.indexOf(b.value),
  );
  return (
    <div>
      {items.map((e: any) => (
        <div key={e.value} style={{ display: 'flex', alignItems: 'center', height: 36 }}>
          <svg width={12} height={12}>
            <circle cx={6} cy={6} r={2.8} fill={e.color} />
          </svg>
          <span style={{ marginLeft: 11, fontFamily: serif, fontWeight: 700, fontSize: 20, color: '#000' }}>
            {e.value}
          </span>
        </div>
      ))}
    </div>
  );
}

const RedDot = (p: any) => <circle cx={p.cx} cy={p.cy} r={1.3} fill="#ff0000" />;
const BlueDot = (p: any) => <circle cx={p.cx} cy={p.cy} r={1.3} fill="#0000ff" />;

const frame = { stroke: '#000', strokeWidth: 2, strokeLinecap: 'square' as const };

export default function App() {
  return (
    <div style={{ position: 'absolute', left: 0, top: 0, width: 570, height: 590, background: '#fff' }}>
      <ScatterChart width={570} height={590} margin={{ top: 31, right: 7, bottom: 0, left: 0 }}>
        <XAxis
          type="number"
          dataKey="x"
          domain={[-0.044, 2.028]}
          ticks={xTicks}
          interval={0}
          tickSize={0}
          tickMargin={0}
          tickLine={false}
          axisLine={frame}
          height={62}
          tick={<BottomTick />}
          label={<XLabel />}
          allowDataOverflow
        />
        <XAxis
          xAxisId="top"
          orientation="top"
          type="number"
          domain={[-0.044, 2.028]}
          ticks={xTicks}
          interval={0}
          tickSize={0}
          tickMargin={0}
          tickLine={false}
          axisLine={frame}
          height={0}
          tick={<TopTick />}
          label={<TitleLabel />}
          allowDataOverflow
        />
        <YAxis
          type="number"
          dataKey="y"
          domain={[-1.083, 1.096]}
          ticks={yTicks}
          interval={0}
          tickSize={0}
          tickMargin={0}
          tickLine={false}
          axisLine={frame}
          width={74}
          tick={<LeftTick />}
          label={<YLabel />}
          allowDataOverflow
        />
        <YAxis
          yAxisId="right"
          orientation="right"
          type="number"
          domain={[-1.083, 1.096]}
          ticks={yTicks}
          interval={0}
          tickSize={0}
          tickMargin={0}
          tickLine={false}
          axisLine={frame}
          width={0}
          tick={<RightTick />}
          allowDataOverflow
        />
        {gridX.map((g) => (
          <ReferenceLine key={g} x={g} stroke="#a3a3a3" strokeWidth={1} />
        ))}
        <ReferenceLine y={0} stroke="#1a1a1a" strokeWidth={1.2} />
        <Scatter name="Positive" data={positiveData} fill="#ff0000" shape={RedDot} isAnimationActive={false} />
        <Scatter name="Negative" data={negativeData} fill="#0000ff" shape={BlueDot} isAnimationActive={false} />
        <Legend
          layout="vertical"
          align="center"
          verticalAlign="middle"
          content={<LegendBox />}
          wrapperStyle={{ left: 268, top: 442, width: 140, height: 72 }}
        />
      </ScatterChart>
    </div>
  );
}
